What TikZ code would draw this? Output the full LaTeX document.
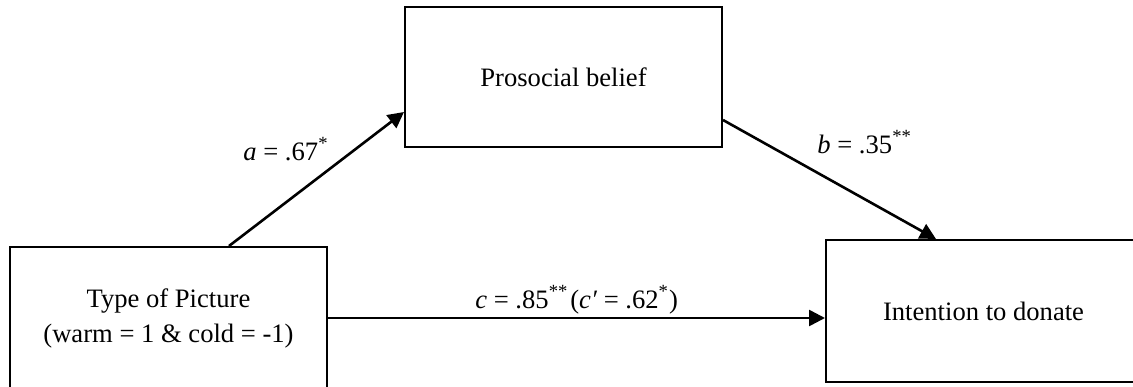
\documentclass[tikz,border=0pt]{standalone}
\usepackage{fontspec}
\setmainfont{Liberation Serif}
\usetikzlibrary{arrows.meta,calc}
\begin{document}
\begin{tikzpicture}[x=0.5pt,y=-0.5pt,
  box/.style={draw=black,line width=1pt,fill=white,inner sep=0pt,align=center,
    font=\fontsize{13.3pt}{17.5pt}\selectfont},
  path/.style={line width=1.3pt,-{Triangle[length=8pt,width=8pt]}},
  lab/.style={inner sep=0pt,anchor=base west,font=\fontsize{13.3pt}{16pt}\selectfont}]
\useasboundingbox (0,0) rectangle (1133,386);
\clip (0,0) rectangle (1133,386);
\node[box,minimum width=158.5pt,minimum height=71pt] (L) at (168.5,318)
  {Type of Picture\\(warm = 1 \& cold = -1)};
\node[box,minimum width=158.5pt,minimum height=70pt] (M) at (563.5,77)
  {Prosocial belief};
\node[box,minimum width=157.5pt,minimum height=71pt] (R) at (983.5,311)
  {Intention to donate};
\draw[path] ([xshift=110pt]L.north west) -- ([yshift=-17.5pt]M.west);
\draw[path] ([yshift=-21.5pt]M.east) -- ([xshift=55.5pt]R.north west);
\draw[path] (L.east) -- (L.east -| R.west);
\node[lab] (la) at (243,160) {\textit{a} = .67\textsuperscript{*}};
\node[lab] (lb) at (817,153) {\textit{b} = .35\textsuperscript{**}};
\node[lab] (lc) at (475,308) {\textit{c} = .85\textsuperscript{**}\kern1pt(\textit{c′} = .62\textsuperscript{*})};
\end{tikzpicture}
\end{document}
